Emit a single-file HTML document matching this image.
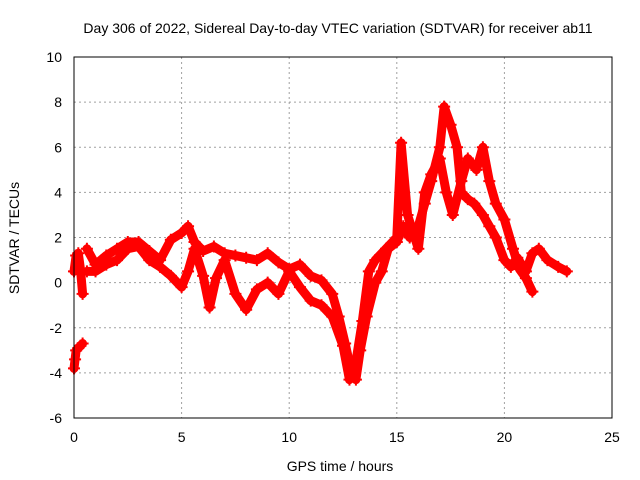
<!DOCTYPE html>
<html><head><meta charset="utf-8"><style>
body{margin:0;background:#fff}
svg{display:block;font-family:"Liberation Sans",sans-serif}
</style></head><body>
<svg id="chart" width="640" height="480" viewBox="0 0 640 480">
<text x="338" y="33" font-size="14" text-anchor="middle">Day 306 of 2022, Sidereal Day-to-day VTEC variation (SDTVAR) for receiver ab11</text>
<text x="340" y="471" font-size="14" text-anchor="middle">GPS time / hours</text>
<text transform="translate(19,238) rotate(-90)" font-size="14" text-anchor="middle">SDTVAR / TECUs</text>
<g id="grid"></g><g id="ticks"></g><g id="marks"></g>
<rect x="74" y="57" width="538" height="361" fill="none" stroke="#000" stroke-width="1"/>
</svg>
<script>
const xTicks=[0,5,10,15,20,25];
const yTicks=[-6,-4,-2,0,2,4,6,8,10];
const t0=[0,0.05,0.1,0.2,0.3,0.4];
const v0=[-3.8,-3.4,-3.0,-2.9,-2.8,-2.7];
const t1=[0,0.1,0.2,0.3,0.4];
const v1=[0.5,1.2,1.3,0.6,-0.5];
const t2=[0.6,1,1.5,2,2.5,3,3.5,4,4.5,5,5.3,5.6,6,6.5,7,7.5,8,8.5,9,9.5,10,10.5,11,11.5,12,12.3,12.6,12.9,13.1,13.3,13.6,14,14.3,14.6,15,15.3,15.6,16,16.3,16.6,17,17.2,17.5,17.8,18,18.3,18.6,19,19.3,19.6,20,20.3,20.6,21,21.3,21.6,22,22.5,22.9];
const v2=[1.5,0.8,1.2,1.5,1.8,1.8,1.4,1.0,1.9,2.2,2.5,1.8,1.4,1.6,1.3,1.2,1.1,1.0,1.3,0.9,0.6,0.8,0.3,0.1,-0.5,-1.5,-2.7,-4.0,-4.3,-3.0,-1.5,0,0.5,1.5,1.8,2.5,2.0,2.5,3.5,4.5,6.0,7.8,7.0,6.0,4.0,3.7,3.5,3.0,2.5,2.0,1.0,0.7,1.1,0.5,1.3,1.5,1.0,0.7,0.5];
const t3=[0.6,1,1.5,2,2.5,3,3.5,4,4.5,5,5.3,5.6,6,6.3,6.6,7,7.5,8,8.5,9,9.5,10,10.5,11,11.5,12,12.5,12.8,13.1,13.4,13.7,14,14.5,15,15.2,15.5,16,16.3,16.6,17,17.3,17.6,18,18.3,18.7,19,19.3,19.6,20,20.4,20.7,21,21.3];
const v3=[0.5,0.5,0.8,1.0,1.5,1.6,1.0,0.7,0.3,-0.2,0.5,1.5,0.3,-1.1,0.2,1.0,-0.5,-1.2,-0.3,0,-0.5,0.5,-0.2,-0.8,-1.0,-1.5,-2.8,-4.3,-3.5,-1.7,0.5,1.0,1.5,2.0,6.2,3.0,1.5,4.0,4.8,5.5,4.0,3.0,4.5,5.5,5.0,6.0,4.5,3.5,2.8,1.5,0.6,0.2,-0.4];
const NS="http://www.w3.org/2000/svg";
const X=t=>74+t*(538/25);
const Y=v=>418-(v+6)*(361/16);
const grid=document.getElementById('grid'),ticks=document.getElementById('ticks'),marks=document.getElementById('marks');
function mk(tag,attrs,parent){const e=document.createElementNS(NS,tag);for(const k in attrs)e.setAttribute(k,attrs[k]);parent.appendChild(e);return e;}
xTicks.forEach(t=>{
 if(t>0&&t<25){const g=mk('line',{x1:X(t),x2:X(t),y1:57,y2:418,stroke:'#a0a0a0','stroke-dasharray':'2,3'},grid);
 
 }
 const tx=mk('text',{x:X(t),y:442,'font-size':14,'text-anchor':'middle'},ticks);
 
 
 tx.textContent=t;
});
yTicks.forEach(v=>{
 if(v>-6&&v<10){const g=mk('line',{x1:74,x2:612,y1:Y(v),y2:Y(v),stroke:'#a0a0a0','stroke-dasharray':'2,3'},grid);
 
 }
 const tx=mk('text',{x:62,y:Y(v)+5,'font-size':14,'text-anchor':'end'},ticks);
 
 
 tx.textContent=v;
});
function series(ts,vs,name){
 const g=mk('g',{},marks);
 
 
 const pts=ts.map((t,i)=>X(t)+','+Y(vs[i])).join(' ');
 mk('polyline',{points:pts,fill:'none',stroke:'#f00','stroke-width':9,'stroke-linejoin':'round','stroke-linecap':'round'},g);
 ts.forEach((t,i)=>{
  const p=mk('path',{d:`M${X(t)-6},${Y(vs[i])}h12M${X(t)},${Y(vs[i])-6}v12`,stroke:'#f00','stroke-width':2},g);
  
  
 });
}
series(t0,v0,'series-early-negative');
series(t1,v1,'series-early');
series(t2,v2,'series-upper-track');
series(t3,v3,'series-lower-track');
</script>
</body></html>
